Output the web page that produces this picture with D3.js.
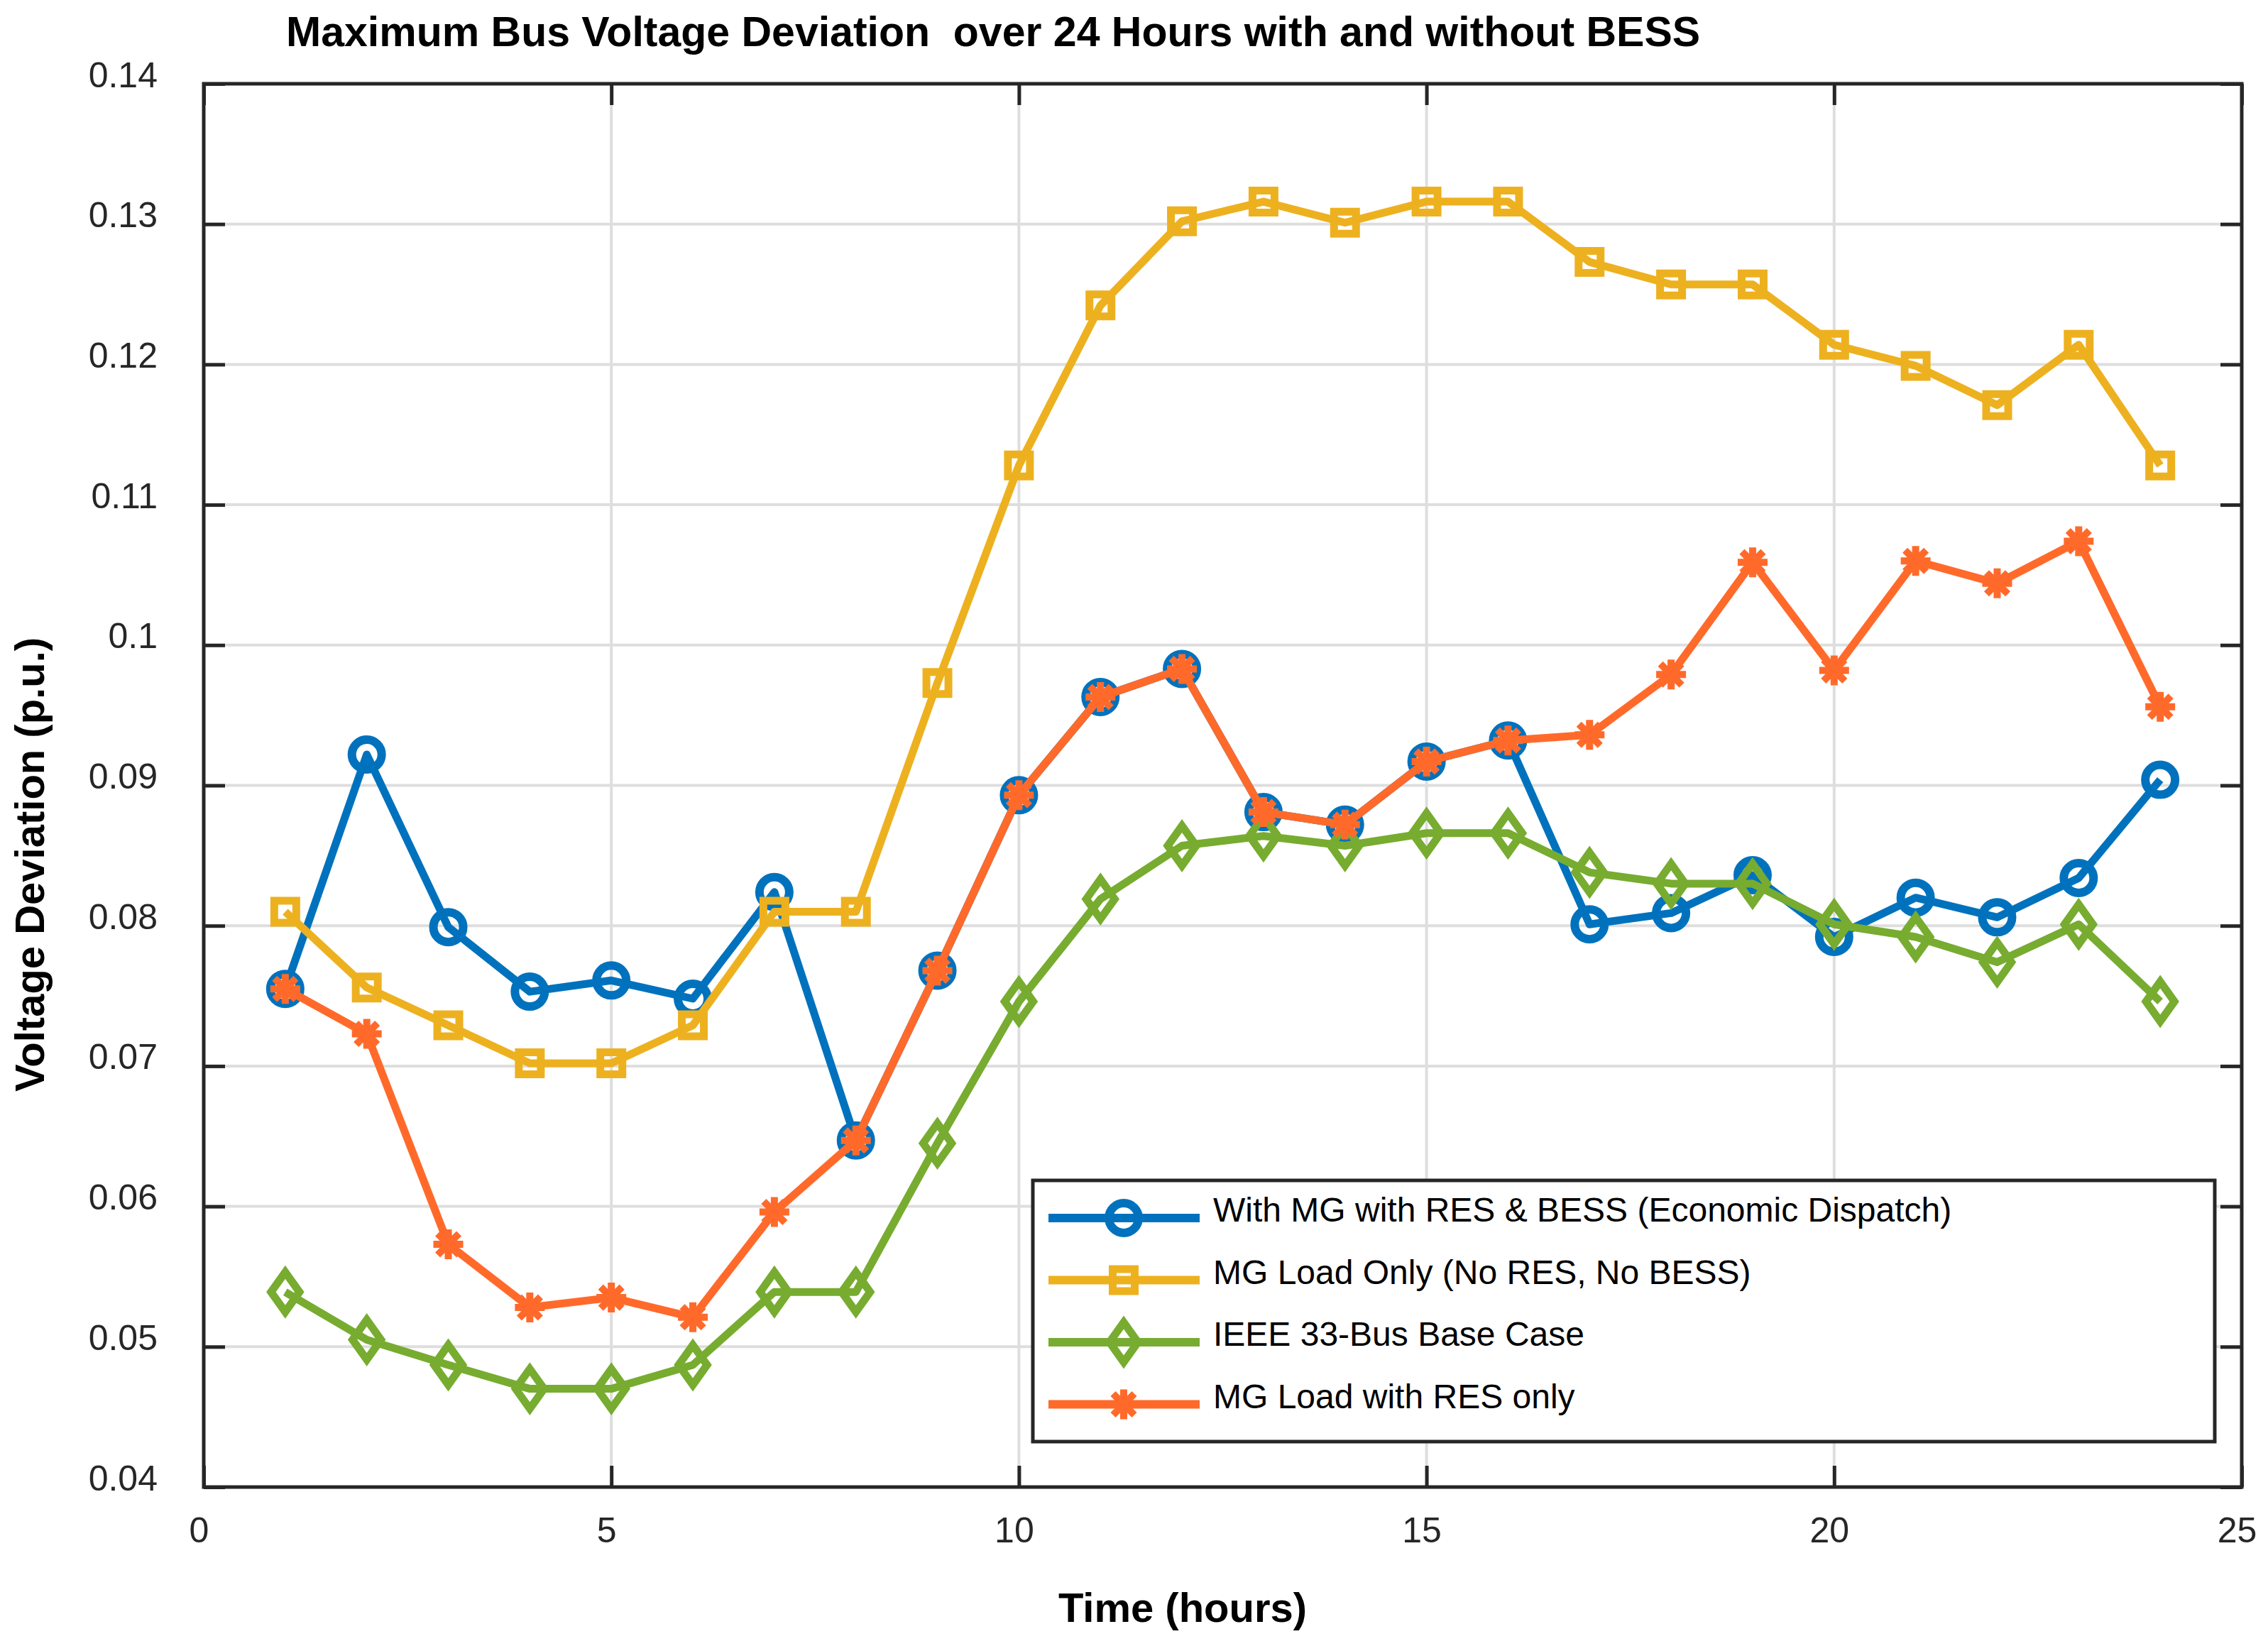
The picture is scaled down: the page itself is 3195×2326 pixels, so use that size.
<!DOCTYPE html>
<html lang="en">

<head>
  <meta charset="UTF-8">
  <title>Maximum Bus Voltage Deviation</title>
  <script src="https://d3js.org/d3.v7.min.js"></script>
  <style>
    body { margin: 0; background: #fff; }
    text { font-family: "Liberation Sans", Arial, Helvetica, sans-serif; }
    .tick text { font-size: 50px; fill: #262626; }
    .grid line { stroke: #dedede; stroke-width: 4px; }
    .series { fill: none; stroke-width: 11px; stroke-linejoin: round; }
  </style>
</head>

<body>
  <script>
    // data
    const hours = d3.range(1, 25);
    const withBess = [0.0755, 0.0922, 0.0799, 0.0753, 0.0761, 0.0748, 0.0824, 0.0647, 0.0768, 0.0893, 0.0963, 0.0983,
      0.0881, 0.0872, 0.0917, 0.0932, 0.0801, 0.0809, 0.0836, 0.0792, 0.0820, 0.0806, 0.0834, 0.0904];
    const loadOnly = [0.0810, 0.0756, 0.0729, 0.0702, 0.0702, 0.0729, 0.0810, 0.0810, 0.0973, 0.1128, 0.1242, 0.1302,
      0.1316, 0.1301, 0.1316, 0.1316, 0.1273, 0.1257, 0.1257, 0.1214, 0.1199, 0.1171, 0.1214, 0.1128];
    const baseCase = [0.0539, 0.0505, 0.0487, 0.0470, 0.0470, 0.0487, 0.0539, 0.0539, 0.0645, 0.0746, 0.0819, 0.0857,
      0.0864, 0.0857, 0.0866, 0.0866, 0.0838, 0.0830, 0.0830, 0.0801, 0.0792, 0.0774, 0.0801, 0.0746];
    const resOnly = [0.0755, 0.0723, 0.0573, 0.0528, 0.0535, 0.0521, 0.0596, 0.0647, 0.0768, 0.0893, 0.0963, 0.0983,
      0.0881, 0.0872, 0.0917, 0.0932, 0.0936, 0.0979, 0.1059, 0.0982, 0.1060, 0.1044, 0.1074, 0.0956];

    const seriesNames = ["With MG with RES & BESS (Economic Dispatch)", "MG Load Only (No RES, No BESS)",
      "IEEE 33-Bus Base Case", "MG Load with RES only"];
    const xTicks = [0, 5, 10, 15, 20, 25];
    const yTicks = [0.04, 0.05, 0.06, 0.07, 0.08, 0.09, 0.1, 0.11, 0.12, 0.13, 0.14];

    const series = [
      { name: seriesNames[0], values: withBess, color: "#0072BD", marker: "circle" },
      { name: seriesNames[1], values: loadOnly, color: "#EDB120", marker: "square" },
      { name: seriesNames[2], values: baseCase, color: "#77AC30", marker: "diamond" },
      { name: seriesNames[3], values: resOnly, color: "#FF6A2B", marker: "asterisk" }
    ];

    const W = 3195, H = 2326;
    const margin = { top: 118, right: 37, bottom: 231, left: 287 };
    const x = d3.scaleLinear().domain([0, 25]).range([margin.left, W - margin.right]);
    const y = d3.scaleLinear().domain([0.04, 0.14]).range([H - margin.bottom, margin.top]);

    const svg = d3.select("body").append("svg")
      .attr("width", W)
      .attr("height", H);

    // grid
    svg.append("g").attr("class", "grid")
      .selectAll("line.v").data(xTicks.slice(1, -1)).enter().append("line")
      .attr("x1", d => x(d)).attr("x2", d => x(d))
      .attr("y1", y(0.04)).attr("y2", y(0.14));
    svg.select(".grid")
      .selectAll("line.h").data(yTicks.slice(1, -1)).enter().append("line")
      .attr("x1", x(0)).attr("x2", x(25))
      .attr("y1", d => y(d)).attr("y2", d => y(d));

    // axes (ticks pointing inward on all four sides)
    const axisStyle = g => {
      g.select(".domain").remove();
      g.selectAll(".tick line").attr("stroke", "#262626").attr("stroke-width", 5);
    };
    svg.append("g")
      .attr("transform", "translate(0," + y(0.04) + ")")
      .call(d3.axisBottom(x).tickValues(xTicks).tickFormat(d3.format("d")).tickSizeInner(-30).tickSizeOuter(0).tickPadding(42))
      .call(axisStyle)
      .selectAll("text").attr("dx", -7);
    svg.append("g")
      .attr("transform", "translate(0," + y(0.14) + ")")
      .call(d3.axisTop(x).tickValues(xTicks).tickFormat("").tickSizeInner(-30).tickSizeOuter(0))
      .call(axisStyle);
    svg.append("g")
      .attr("transform", "translate(" + x(0) + ",0)")
      .call(d3.axisLeft(y).tickValues(yTicks).tickFormat(d => String(d)).tickSizeInner(-30).tickSizeOuter(0).tickPadding(65))
      .call(axisStyle)
      .selectAll("text").attr("dy", "0.08em");
    svg.append("g")
      .attr("transform", "translate(" + x(25) + ",0)")
      .call(d3.axisRight(y).tickValues(yTicks).tickFormat("").tickSizeInner(-30).tickSizeOuter(0))
      .call(axisStyle);

    // box
    svg.append("rect")
      .attr("x", x(0)).attr("y", y(0.14))
      .attr("width", x(25) - x(0)).attr("height", y(0.04) - y(0.14))
      .attr("fill", "none").attr("stroke", "#262626").attr("stroke-width", 5);

    // marker shapes
    function markerPath(type) {
      if (type === "circle") return d3.symbol(d3.symbolCircle, Math.PI * 21 * 21)();
      if (type === "square") return "M-15.5,-15.5H15.5V15.5H-15.5Z";
      if (type === "diamond") return "M0,-28L20,0L0,28L-20,0Z";
      // matlab style "*": plus and cross together
      const r = 21, d = 15;
      return "M0,-" + r + "V" + r + "M-" + r + ",0H" + r +
        "M-" + d + ",-" + d + "L" + d + "," + d + "M-" + d + "," + d + "L" + d + ",-" + d;
    }
    const markerWidth = m => (m === "asterisk" ? 10 : m === "circle" ? 12 : 11);

    const line = d3.line().x((d, i) => x(hours[i])).y(d => y(d));

    series.forEach(s => {
      const g = svg.append("g");
      g.append("path")
        .attr("class", "series")
        .attr("stroke", s.color)
        .attr("d", line(s.values));
      g.selectAll("path.mk").data(s.values).enter().append("path")
        .attr("class", "mk")
        .attr("transform", (d, i) => "translate(" + x(hours[i]) + "," + y(d) + ")")
        .attr("d", markerPath(s.marker))
        .attr("fill", "none")
        .attr("stroke", s.color)
        .attr("stroke-width", markerWidth(s.marker));
    });

    // legend
    const lg = svg.append("g").attr("transform", "translate(1455,1663)");
    lg.append("rect")
      .attr("width", 1665).attr("height", 368)
      .attr("fill", "#fff").attr("stroke", "#262626").attr("stroke-width", 5);
    const rows = lg.selectAll("g.row").data(series).enter().append("g")
      .attr("transform", (d, i) => "translate(0," + (53 + i * 87.5) + ")");
    rows.append("line")
      .attr("x1", 22).attr("x2", 235)
      .attr("stroke", d => d.color).attr("stroke-width", 12);
    rows.append("path")
      .attr("transform", "translate(128,0)")
      .attr("d", d => markerPath(d.marker))
      .attr("fill", "none")
      .attr("stroke", d => d.color)
      .attr("stroke-width", d => markerWidth(d.marker));
    rows.append("text")
      .attr("x", 254).attr("y", 5)
      .style("font-size", "48px")
      .attr("fill", "#000")
      .text(d => d.name);

    // title and axis labels
    svg.append("text")
      .attr("x", 403).attr("y", 65)
      .style("font-size", "59px").style("font-weight", "bold").style("white-space", "pre")
      .attr("fill", "#000")
      .text("Maximum Bus Voltage Deviation  over 24 Hours with and without BESS");
    svg.append("text")
      .attr("x", 1666).attr("y", 2285)
      .attr("text-anchor", "middle")
      .style("font-size", "58px").style("font-weight", "bold")
      .attr("fill", "#000")
      .text("Time (hours)");
    svg.append("text")
      .attr("transform", "translate(62,1218) rotate(-90)")
      .attr("text-anchor", "middle")
      .style("font-size", "58px").style("font-weight", "bold")
      .attr("fill", "#000")
      .text("Voltage Deviation (p.u.)");
  </script>
</body>

</html>
